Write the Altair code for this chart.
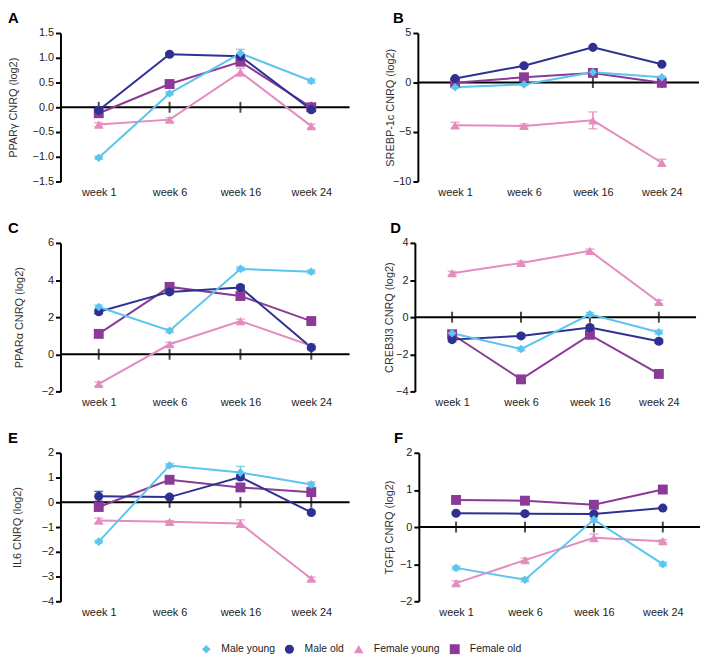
import altair as alt
import pandas as pd

FONT = "Liberation Sans"

weeks = ["week 1", "week 6", "week 16", "week 24"]
series = ["Male young", "Male old", "Female young", "Female old"]
colors = ["#5BC5EE", "#2E3192", "#E48BBF", "#8C3A97"]
shapes = ["diamond", "circle", "triangle-up", "square"]
sizes = [75, 100, 90, 85]

# Panel A: PPARgamma
a_male_young = [-1.02, 0.28, 1.09, 0.53]
a_male_old = [-0.06, 1.07, 1.03, -0.05]
a_female_young = [-0.35, -0.25, 0.71, -0.38]
a_female_old = [-0.12, 0.47, 0.92, 0.0]
a_err_male_young = [0.03, 0.03, 0.08, 0.04]
a_err_male_old = [0.03, 0.03, 0.03, 0.03]
a_err_female_young = [0.04, 0.04, 0.08, 0.04]
a_err_female_old = [0.03, 0.03, 0.03, 0.03]

# Panel B: SREBP-1c
b_male_young = [-0.47, -0.2, 1.04, 0.53]
b_male_old = [0.4, 1.7, 3.55, 1.85]
b_female_young = [-4.32, -4.39, -3.82, -8.1]
b_female_old = [-0.03, 0.53, 0.97, -0.03]
b_err_male_young = [0.1, 0.1, 0.1, 0.1]
b_err_male_old = [0.1, 0.1, 0.1, 0.1]
b_err_female_young = [0.3, 0.2, 0.85, 0.35]
b_err_female_old = [0.1, 0.1, 0.1, 0.1]

# Panel C: PPARalpha
c_male_young = [2.55, 1.27, 4.6, 4.45]
c_male_old = [2.29, 3.36, 3.6, 0.36]
c_female_young = [-1.59, 0.54, 1.79, 0.46]
c_female_old = [1.1, 3.63, 3.14, 1.79]
c_err_male_young = [0.1, 0.1, 0.1, 0.1]
c_err_male_old = [0.1, 0.1, 0.1, 0.1]
c_err_female_young = [0.1, 0.1, 0.1, 0.1]
c_err_female_old = [0.1, 0.1, 0.1, 0.1]

# Panel D: CREB3l3
d_male_young = [-0.87, -1.72, 0.15, -0.81]
d_male_old = [-1.21, -1.01, -0.56, -1.3]
d_female_young = [2.37, 2.92, 3.57, 0.82]
d_female_old = [-0.92, -3.35, -0.95, -3.06]
d_err_male_young = [0.1, 0.1, 0.1, 0.1]
d_err_male_old = [0.1, 0.1, 0.1, 0.1]
d_err_female_young = [0.1, 0.1, 0.1, 0.1]
d_err_female_old = [0.1, 0.1, 0.1, 0.1]

# Panel E: IL6
e_male_young = [-1.59, 1.49, 1.2, 0.72]
e_male_old = [0.24, 0.21, 1.02, -0.41]
e_female_young = [-0.74, -0.79, -0.86, -3.09]
e_female_old = [-0.19, 0.91, 0.6, 0.41]
e_err_male_young = [0.05, 0.07, 0.25, 0.1]
e_err_male_old = [0.2, 0.07, 0.1, 0.05]
e_err_female_young = [0.1, 0.05, 0.15, 0.07]
e_err_female_old = [0.07, 0.07, 0.07, 0.07]

# Panel F: TGFbeta
f_male_young = [-1.1, -1.42, 0.2, -1.0]
f_male_old = [0.37, 0.36, 0.35, 0.51]
f_female_young = [-1.51, -0.89, -0.29, -0.38]
f_female_old = [0.73, 0.71, 0.6, 1.01]
f_err_male_young = [0.05, 0.05, 0.07, 0.05]
f_err_male_old = [0.03, 0.03, 0.03, 0.03]
f_err_female_young = [0.06, 0.05, 0.1, 0.04]
f_err_female_old = [0.05, 0.05, 0.05, 0.05]

LEGEND = alt.Legend(
    title=None, orient="none", legendX=142, legendY=617, direction="horizontal",
    symbolSize=42, symbolStrokeWidth=0, symbolOpacity=1, labelFontSize=10.5,
    labelFont=FONT, labelColor="#222", labelOffset=10, columnPadding=9, padding=0,
)


def panel(letter, ytitle, vals, errs, domain, ticks, fmt, tpad, width, lx):
    rows = []
    for s in reversed(series):
        for i, w in enumerate(weeks):
            v = vals[s][i]
            e = errs[s][i]
            rows.append(dict(week=w, idx=i, series=s, value=v, lo=v - e, hi=v + e))
    df = pd.DataFrame(rows)

    xenc = alt.X(
        "week:N", sort=weeks,
        scale=alt.Scale(type="point", padding=0.54),
        axis=alt.Axis(title=None, domain=False, ticks=False, labelAngle=0,
                      labelPadding=5, labelFontSize=11, labelFont=FONT,
                      labelColor="#222"),
    )
    yscale = alt.Scale(domain=domain, nice=False, zero=False)
    yaxis = alt.Axis(
        values=ticks, format=fmt, title=ytitle, titlePadding=tpad,
        minExtent=20, maxExtent=20, domainColor="black", domainWidth=2,
        tickColor="black", tickWidth=2, tickSize=5, labelPadding=2,
        labelFontSize=11, labelFont=FONT, labelColor="#222",
        titleFont=FONT, titleFontSize=11, titleFontWeight="normal",
        titleColor="#333", grid=False,
    )
    color = alt.Color("series:N", scale=alt.Scale(domain=series, range=colors), legend=LEGEND)
    shape = alt.Shape("series:N", scale=alt.Scale(domain=series, range=shapes), legend=LEGEND)
    size = alt.Size("series:O", scale=alt.Scale(domain=series, range=sizes), legend=None)

    base = alt.Chart(df)
    zero = alt.Chart(pd.DataFrame({"value": [0]})).mark_rule(
        color="black", strokeWidth=2
    ).encode(y=alt.Y("value:Q", scale=yscale, axis=yaxis))
    cat_ticks = alt.Chart(pd.DataFrame({"week": weeks, "value": [0] * len(weeks)})).mark_tick(
        orient="vertical", size=11, thickness=2, color="black"
    ).encode(x=xenc, y=alt.Y("value:Q", scale=yscale, axis=yaxis))
    lines = base.mark_line(strokeWidth=2).encode(
        x=xenc, y=alt.Y("value:Q", scale=yscale, axis=yaxis), color=color,
        order=alt.Order("idx:Q"),
    )
    ebars = base.mark_rule(strokeWidth=1.5).encode(
        x=xenc, y=alt.Y("lo:Q", scale=yscale, axis=yaxis), y2="hi:Q", color=color,
    )
    cap_lo = base.mark_tick(size=9, thickness=1.5).encode(
        x=xenc, y=alt.Y("lo:Q", scale=yscale, axis=yaxis), color=color,
    )
    cap_hi = base.mark_tick(size=9, thickness=1.5).encode(
        x=xenc, y=alt.Y("hi:Q", scale=yscale, axis=yaxis), color=color,
    )
    pts = base.mark_point(filled=True, opacity=1, strokeWidth=0).encode(
        x=xenc, y=alt.Y("value:Q", scale=yscale, axis=yaxis),
        color=color, shape=shape, size=size,
    )
    lab = alt.Chart(pd.DataFrame({"t": [letter]})).mark_text(
        align="left", baseline="alphabetic", fontSize=15, fontWeight="bold",
        font=FONT, color="black",
    ).encode(text="t:N", x=alt.value(lx), y=alt.value(-10))

    return alt.layer(zero, cat_ticks, lines, ebars, cap_lo, cap_hi, pts, lab).properties(
        width=width, height=150
    )


def d(a, b, c, e):
    return {"Male young": a, "Male old": b, "Female young": c, "Female old": e}


pA = panel("A", "PPARγ CNRQ (log2)",
           d(a_male_young, a_male_old, a_female_young, a_female_old),
           d(a_err_male_young, a_err_male_old, a_err_female_young, a_err_female_old),
           [-1.5, 1.5], [-1.5, -1.0, -0.5, 0.0, 0.5, 1.0, 1.5], ".1f", 22, 292, -53)
pB = panel("B", "SREBP-1c  CNRQ (log2)",
           d(b_male_young, b_male_old, b_female_young, b_female_old),
           d(b_err_male_young, b_err_male_old, b_err_female_young, b_err_female_old),
           [-10, 5], [-10, -5, 0, 5], "d", 3, 284, -25)
pC = panel("C", "PPARα CNRQ (log2)",
           d(c_male_young, c_male_old, c_female_young, c_female_old),
           d(c_err_male_young, c_err_male_old, c_err_female_young, c_err_female_old),
           [-2, 6], [-2, 0, 2, 4, 6], "d", 16, 292, -53)
pD = panel("D", "CREB3l3 CNRQ (log2)",
           d(d_male_young, d_male_old, d_female_young, d_female_old),
           d(d_err_male_young, d_err_male_old, d_err_female_young, d_err_female_old),
           [-4, 4], [-4, -2, 0, 2, 4], "d", 1, 284, -25)
pE = panel("E", "IL6 CNRQ (log2)",
           d(e_male_young, e_male_old, e_female_young, e_female_old),
           d(e_err_male_young, e_err_male_old, e_err_female_young, e_err_female_old),
           [-4, 2], [-4, -3, -2, -1, 0, 1, 2], "d", 18, 292, -53)
pF = panel("F", "TGFβ CNRQ (log2)",
           d(f_male_young, f_male_old, f_female_young, f_female_old),
           d(f_err_male_young, f_err_male_old, f_err_female_young, f_err_female_old),
           [-2, 2], [-2, -1, 0, 1, 2], "d", 5, 284, -25)

chart = alt.vconcat(
    alt.hconcat(pA, pB, spacing=33),
    alt.hconcat(pC, pD, spacing=33),
    alt.hconcat(pE, pF, spacing=33),
    spacing=24,
).properties(
    padding={"left": 0, "top": 0, "right": 0, "bottom": 0}
).configure_view(stroke=None).configure_axis(grid=False)

chart.save("out.html", embed_options={"renderer": "svg", "actions": False})
